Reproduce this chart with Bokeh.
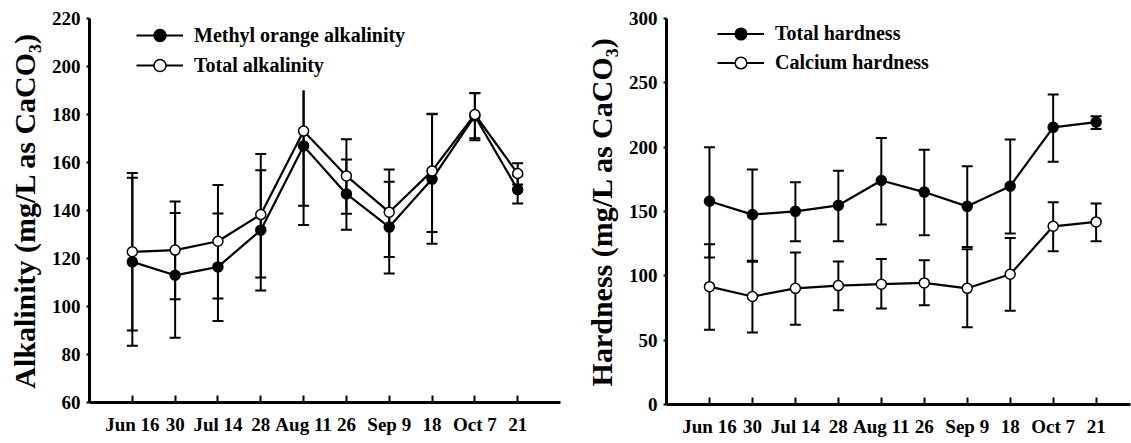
from bokeh.plotting import figure
from bokeh.layouts import row
from bokeh.models import FixedTicker, Legend, LegendItem, Range1d
from bokeh.embed import file_html
from bokeh.resources import INLINE

# ---------------- data ----------------
dates = ["Jun 16", "30", "Jul 14", "28", "Aug 11", "26", "Sep 9", "18", "Oct 7", "21"]

# Alkalinity (mg/L as CaCO3)
mo_alk = [118.6, 113.0, 116.5, 131.8, 166.9, 146.9, 133.1, 153.1, 179.4, 148.7]
mo_lo = [83.6, 87.0, 94.0, 106.7, 134.0, 132.0, 113.8, 126.1, 169.3, 142.9]
mo_hi = [153.6, 139.0, 138.8, 156.8, 190.0, 161.3, 152.0, 180.1, 189.0, 154.6]

tot_alk = [122.8, 123.5, 127.2, 138.3, 173.1, 154.4, 139.3, 156.5, 180.0, 155.4]
tot_lo = [90.0, 103.0, 103.3, 112.1, 142.0, 138.6, 120.6, 131.0, 170.1, 150.8]
tot_hi = [155.6, 143.8, 150.6, 163.5, 190.0, 169.7, 157.1, 180.3, 188.9, 159.7]
alk_top_cap = [True, True, True, True, False, True, True, True, True, True]

# Hardness (mg/L as CaCO3)
th = [158.0, 147.6, 150.1, 154.8, 174.1, 165.1, 154.0, 169.7, 215.4, 219.5]
th_lo = [114.3, 111.7, 126.9, 126.9, 139.8, 131.6, 122.5, 132.9, 188.6, 214.1]
th_hi = [199.9, 182.6, 172.8, 181.6, 207.1, 197.9, 185.2, 205.9, 240.9, 224.0]

ch = [91.6, 83.9, 90.3, 92.4, 93.5, 94.5, 90.3, 101.2, 138.5, 141.9]
ch_lo = [58.1, 56.0, 62.0, 73.3, 74.6, 77.1, 60.1, 72.8, 119.2, 126.9]
ch_hi = [124.6, 111.0, 118.2, 111.2, 113.0, 112.2, 120.7, 129.5, 157.1, 156.3]
hard_top_cap = [True] * 10

alk_ticks = [60, 80, 100, 120, 140, 160, 180, 200, 220]
hard_ticks = [0, 50, 100, 150, 200, 250, 300]

x = list(range(len(dates)))

FONT = "Liberation Serif"


def style(p, yticks, ylabel):
    p.grid.visible = False
    p.outline_line_color = None
    p.background_fill_color = "white"
    p.border_fill_color = "white"
    xa, ya = p.xaxis[0], p.yaxis[0]
    xa.ticker = FixedTicker(ticks=x)
    xa.major_label_overrides = {i: d for i, d in enumerate(dates)}
    xa.major_tick_in = 7
    xa.major_tick_out = 0
    xa.minor_tick_line_color = None
    xa.axis_line_width = 3
    xa.major_tick_line_width = 2
    xa.major_label_text_font = FONT
    xa.major_label_text_font_style = "bold"
    xa.major_label_text_font_size = "19px"
    xa.major_label_text_color = "black"
    xa.major_label_standoff = 11
    ya.ticker = FixedTicker(ticks=yticks)
    ya.major_tick_in = 0
    ya.major_tick_out = 3
    ya.minor_tick_line_color = None
    ya.axis_line_width = 3
    ya.major_tick_line_width = 2
    ya.major_label_text_font = FONT
    ya.major_label_text_font_style = "bold"
    ya.major_label_text_font_size = "19px"
    ya.major_label_text_color = "black"
    ya.major_label_standoff = 6
    ya.axis_label = ylabel
    ya.axis_label_text_font = FONT
    ya.axis_label_text_font_style = "bold"
    ya.axis_label_text_font_size = "30px"
    ya.axis_label_text_color = "black"
    ya.axis_label_standoff = 8


def errbars(p, lo, hi, top_cap):
    p.segment(x0=x, y0=lo, x1=x, y1=hi, line_width=2, line_color="black")
    p.scatter(x, lo, marker="dash", size=11, line_width=2, line_color="black")
    xs = [xi for xi, c in zip(x, top_cap) if c]
    ys = [yi for yi, c in zip(hi, top_cap) if c]
    p.scatter(xs, ys, marker="dash", size=11, line_width=2, line_color="black")


def series(p, y, filled):
    ln = p.line(x, y, line_width=2.2, line_color="black")
    sc = p.scatter(x, y, size=10, line_color="black", line_width=1.5,
                   fill_color="black" if filled else "white")
    return [ln, sc]


def add_legend(p, items, loc, gh):
    leg = Legend(items=items, location=loc, padding=0, margin=0, spacing=0,
                 glyph_width=47, glyph_height=gh, label_standoff=11,
                 label_text_font=FONT, label_text_font_style="bold",
                 label_text_font_size="20px", label_text_color="black",
                 background_fill_alpha=0, border_line_color=None)
    p.add_layout(leg)


# ---------------- left: alkalinity ----------------
p1 = figure(frame_width=471, frame_height=384, min_border_left=89, min_border_right=15,
            min_border_top=18, min_border_bottom=41,
            x_range=Range1d(-1, 10), y_range=Range1d(60, 220),
            output_backend="svg", toolbar_location=None)
style(p1, alk_ticks, "Alkalinity (mg/L as CaCO\u2083)")
errbars(p1, mo_lo, mo_hi, alk_top_cap)
errbars(p1, tot_lo, tot_hi, alk_top_cap)
r_mo = series(p1, mo_alk, True)
r_tot = series(p1, tot_alk, False)
add_legend(p1, [LegendItem(label="Methyl orange alkalinity", renderers=r_mo),
                LegendItem(label="Total alkalinity", renderers=r_tot)], (47, 322), 30)

# ---------------- right: hardness ----------------
p2 = figure(frame_width=464, frame_height=386, min_border_left=91, min_border_right=1,
            min_border_top=16, min_border_bottom=41,
            x_range=Range1d(-1, 9.8), y_range=Range1d(0, 300),
            output_backend="svg", toolbar_location=None)
style(p2, hard_ticks, "Hardness (mg/L as CaCO\u2083)")
errbars(p2, th_lo, th_hi, hard_top_cap)
errbars(p2, ch_lo, ch_hi, hard_top_cap)
r_th = series(p2, th, True)
r_ch = series(p2, ch, False)
add_legend(p2, [LegendItem(label="Total hardness", renderers=r_th),
                LegendItem(label="Calcium hardness", renderers=r_ch)], (51, 327), 29)

layout = row(p1, p2)
open("out.html", "w").write(file_html(layout, INLINE))
